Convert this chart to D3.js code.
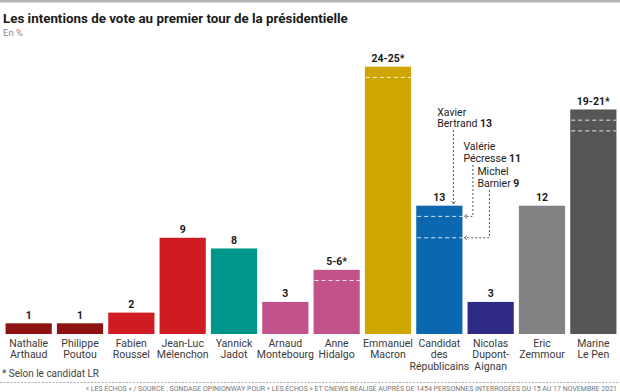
<!DOCTYPE html>
<html><head><meta charset="utf-8">
<script src="https://cdn.jsdelivr.net/npm/d3@7"></script>
<style>
html,body{margin:0;padding:0;background:#fff;}
svg{display:block;font-family:Roboto,"Liberation Sans",Arial,sans-serif;}
</style></head>
<body>
<script>
// ---- data ----
const categories = [
  ["Nathalie","Arthaud"],["Philippe","Poutou"],["Fabien","Roussel"],["Jean-Luc","Mélenchon"],
  ["Yannick","Jadot"],["Arnaud","Montebourg"],["Anne","Hidalgo"],["Emmanuel","Macron"],
  ["Candidat","des","Républicains"],["Nicolas","Dupont-","Aignan"],["Eric","Zemmour"],["Marine","Le Pen"]
];
// bar heights as drawn in the picture (the LR bar is drawn at the same height as Zemmour's)
const values = [1,1,2,9,8,3,6,25,12,3,12,21];
const valueLabels = ["1","1","2","9","8","3","5-6*","24-25*","13","3","12","19-21*"];
const rangeMarks = [[],[],[],[],[],[],[5],[24],[11,9],[],[],[20,19]];
const colors = ["#8e1212","#8e1212","#cf1b21","#cf1b21","#00968b","#c2538a","#c2538a","#cfa500","#0a67b0","#2f2a85","#828282","#575556"];
const lrCandidates = [["Xavier","Bertrand"],["Valérie","Pécresse"],["Michel","Barnier"]];
const lrValues = [13,11,9];
const title = "Les intentions de vote au premier tour de la présidentielle";
const subtitle = "En %";
const footnote = "* Selon le candidat LR";
const source = "« LES ÉCHOS » / SOURCE : SONDAGE OPINIONWAY POUR « LES ÉCHOS » ET CNEWS RÉALISÉ AUPRÈS DE 1454 PERSONNES INTERROGÉES DU 15 AU 17 NOVEMBRE 2021";

const W = 620, H = 392;
const svg = d3.select("body").append("svg").attr("width", W).attr("height", H);

// top rule
svg.append("rect").attr("x",0).attr("y",0).attr("width",W).attr("height",2.5).attr("fill","#b5b5b5");

function fit(sel, w){
  const l = sel.node().getComputedTextLength();
  const fs = parseFloat(sel.attr("font-size"));
  sel.attr("font-size", fs * w / l);
}

const t = svg.append("text").attr("x",3).attr("y",23).attr("font-size",14).attr("font-weight","bold")
  .attr("fill","#1a1a1a").text(title);
fit(t, 345);
svg.append("text").attr("x",3).attr("y",36).attr("font-size",9.5).attr("fill","#8a8a8a").text(subtitle);

const x = d3.scaleBand().domain(d3.range(categories.length)).range([3,619]).paddingInner(0.1).paddingOuter(0.05);
const y = d3.scaleLinear().domain([0,25]).range([334, 66.7]);

const g = svg.append("g");
g.selectAll("rect.bar").data(values).join("rect").attr("class","bar")
  .attr("x",(d,i)=>x(i)).attr("width",x.bandwidth())
  .attr("y",d=>y(d)).attr("height",d=>y(0)-y(d))
  .attr("fill",(d,i)=>colors[i]);

// dashed range marks inside bars
rangeMarks.forEach((arr,i)=>{
  arr.forEach(v=>{
    g.append("line").attr("x1",x(i)+1).attr("x2",x(i)+x.bandwidth()).attr("y1",y(v)).attr("y2",y(v))
      .attr("stroke","#fff").attr("stroke-width",1).attr("stroke-dasharray","4,3").attr("opacity",0.85);
  });
});

// value labels
g.selectAll("text.val").data(values).join("text").attr("class","val")
  .attr("x",(d,i)=>x(i)+x.bandwidth()/2).attr("y",d=>y(d)-4.5)
  .attr("text-anchor","middle").attr("font-size",10.5).attr("font-weight","bold").attr("fill","#1a1a1a")
  .text((d,i)=>valueLabels[i]);

// category labels
categories.forEach((lines,i)=>{
  const tx = g.append("text").attr("text-anchor","middle").attr("font-size",10.5).attr("fill","#3a3a3a");
  lines.forEach((ln,j)=>{
    tx.append("tspan").attr("x",x(i)+x.bandwidth()/2).attr("y",y(0)+12.5+j*11.5).text(ln);
  });
});

// LR annotations
const lrIdx = 8;
const bx0 = x(lrIdx), bx1 = x(lrIdx)+x.bandwidth();
const ann = svg.append("g");
const annText = [
  {tx: bx0+21, ty: 115.5, lx: bx1-9, ly0: 130},
  {tx: bx1+1,  ty: 150,   lx: bx1+10.5, ly0: 165},
  {tx: bx1+15, ty: 175,   lx: bx1+27, ly0: 190}
];
lrCandidates.forEach((nm,k)=>{
  const a = annText[k];
  const te = ann.append("text").attr("font-size",10.5).attr("fill","#222");
  te.append("tspan").attr("x",a.tx).attr("y",a.ty).text(nm[0]);
  te.append("tspan").attr("x",a.tx).attr("y",a.ty+11.5).text(nm[1]+" ");
  te.append("tspan").attr("font-weight","bold").text(lrValues[k]);
  if(k===0){
    const vy = y(values[lrIdx]);
    ann.append("line").attr("x1",a.lx).attr("x2",a.lx).attr("y1",a.ly0).attr("y2",vy-2)
      .attr("stroke","#555").attr("stroke-dasharray","2,2");
    ann.append("path").attr("d",`M${a.lx-2},${vy-4.5}L${a.lx},${vy-2}L${a.lx+2},${vy-4.5}`)
      .attr("fill","none").attr("stroke","#555").attr("stroke-width",0.9);
  } else {
    const vy = y(lrValues[k]);
    ann.append("path").attr("d",`M${a.lx},${a.ly0}L${a.lx},${vy}L${bx1+2},${vy}`)
      .attr("fill","none").attr("stroke","#555").attr("stroke-dasharray","2,2");
    ann.append("path").attr("d",`M${bx1+4.5},${vy-2}L${bx1+2},${vy}L${bx1+4.5},${vy+2}`)
      .attr("fill","none").attr("stroke","#555").attr("stroke-width",0.9);
  }
});

// footnote & source
svg.append("text").attr("x",2).attr("y",377).attr("font-size",10).attr("fill","#444").text(footnote);
svg.append("line").attr("x1",0).attr("x2",W).attr("y1",382.5).attr("y2",382.5)
  .attr("stroke","#999").attr("stroke-width",0.8).attr("stroke-dasharray","2,1.5");
const s = svg.append("text").attr("x",617).attr("y",390.5).attr("text-anchor","end").attr("font-size",6.5)
  .attr("fill","#777").text(source);
fit(s, 532);
</script>
</body></html>
